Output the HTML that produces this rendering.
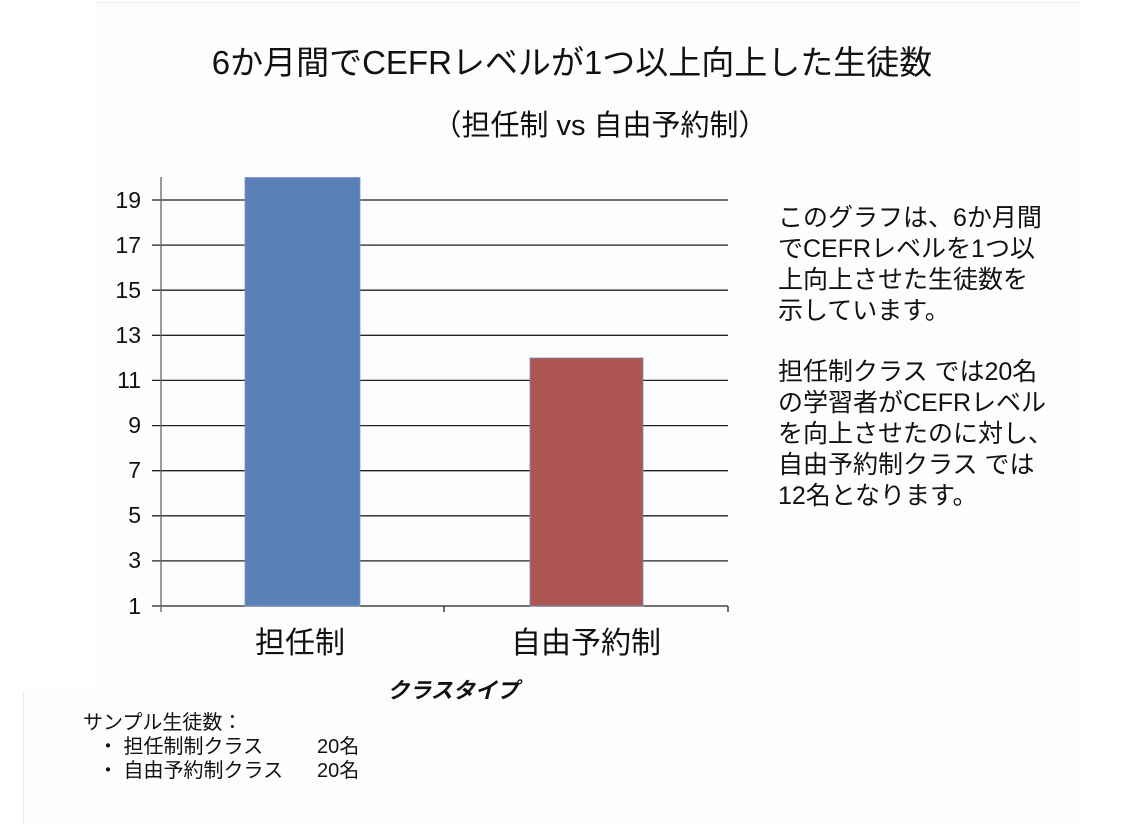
<!DOCTYPE html>
<html><head><meta charset="utf-8"><style>
body{margin:0;width:1142px;height:824px;background:#fff;overflow:hidden;font-family:"Liberation Sans","Noto Sans CJK JP",sans-serif;}
svg{position:absolute;left:0;top:0}
</style></head><body>
<svg width="1142" height="824" xmlns="http://www.w3.org/2000/svg" font-family="Liberation Sans, Noto Sans CJK JP, sans-serif">
<rect x="96" y="2" width="984" height="690" fill="#fdfdfd"/>
<line x1="96" y1="2.5" x2="1080" y2="2.5" stroke="#eee"/>
<rect x="23" y="692" width="1057" height="132" fill="#fdfdfd"/>
<line x1="23.5" y1="692" x2="23.5" y2="824" stroke="#eee"/>
<text x="572" y="74" font-size="33" text-anchor="middle" fill="#111">6か月間でCEFRレベルが1つ以上向上した生徒数</text>
<text x="600" y="135" font-size="29" text-anchor="middle" fill="#111">（担任制 vs 自由予約制）</text>
<g stroke="#222" stroke-width="1.3">
<line x1="152" y1="200" x2="728" y2="200"/>
<line x1="152" y1="245.1" x2="728" y2="245.1"/>
<line x1="152" y1="290.2" x2="728" y2="290.2"/>
<line x1="152" y1="335.3" x2="728" y2="335.3"/>
<line x1="152" y1="380.4" x2="728" y2="380.4"/>
<line x1="152" y1="425.6" x2="728" y2="425.6"/>
<line x1="152" y1="470.7" x2="728" y2="470.7"/>
<line x1="152" y1="515.8" x2="728" y2="515.8"/>
<line x1="152" y1="560.9" x2="728" y2="560.9"/>
<line x1="152" y1="606" x2="728" y2="606"/>
<line x1="161" y1="177" x2="161" y2="612" stroke="#666"/>
<line x1="444" y1="606" x2="444" y2="612"/>
<line x1="728" y1="606" x2="728" y2="612"/>
</g>
<rect x="245" y="177.5" width="115" height="428.5" fill="#5b7fb7" stroke="#7a96c8" stroke-width="0.8"/>
<rect x="530" y="358" width="113" height="248" fill="#ad5651" stroke="#7a8ac0" stroke-width="0.8"/>
<g font-size="23" text-anchor="end" fill="#111">
<text x="141" y="208">19</text><text x="141" y="253">17</text><text x="141" y="298">15</text>
<text x="141" y="343">13</text><text x="141" y="388">11</text><text x="141" y="433">9</text>
<text x="141" y="478">7</text><text x="141" y="523">5</text><text x="141" y="568">3</text><text x="141" y="614">1</text>
</g>
<text x="300" y="653" font-size="30" text-anchor="middle" fill="#111">担任制</text>
<text x="586" y="653" font-size="30" text-anchor="middle" fill="#111">自由予約制</text>
<text x="453" y="698" font-size="22" font-weight="bold" font-style="italic" text-anchor="middle" fill="#111">クラスタイプ</text>
<g font-size="25" fill="#111">
<text x="778" y="226">このグラフは、6か月間</text>
<text x="778" y="257">でCEFRレベルを1つ以</text>
<text x="778" y="288">上向上させた生徒数を</text>
<text x="778" y="319">示しています。</text>
<text x="778" y="380">担任制クラス では20名</text>
<text x="778" y="411">の学習者がCEFRレベル</text>
<text x="778" y="442">を向上させたのに対し、</text>
<text x="778" y="473">自由予約制クラス では</text>
<text x="778" y="504">12名となります。</text>
</g>
<g font-size="20" fill="#111">
<text x="83" y="729">サンプル生徒数：</text>
<text x="98" y="753">・ 担任制制クラス</text><text x="317" y="753">20名</text>
<text x="98" y="777">・ 自由予約制クラス</text><text x="317" y="777">20名</text>
</g>
</svg>
</body></html>
